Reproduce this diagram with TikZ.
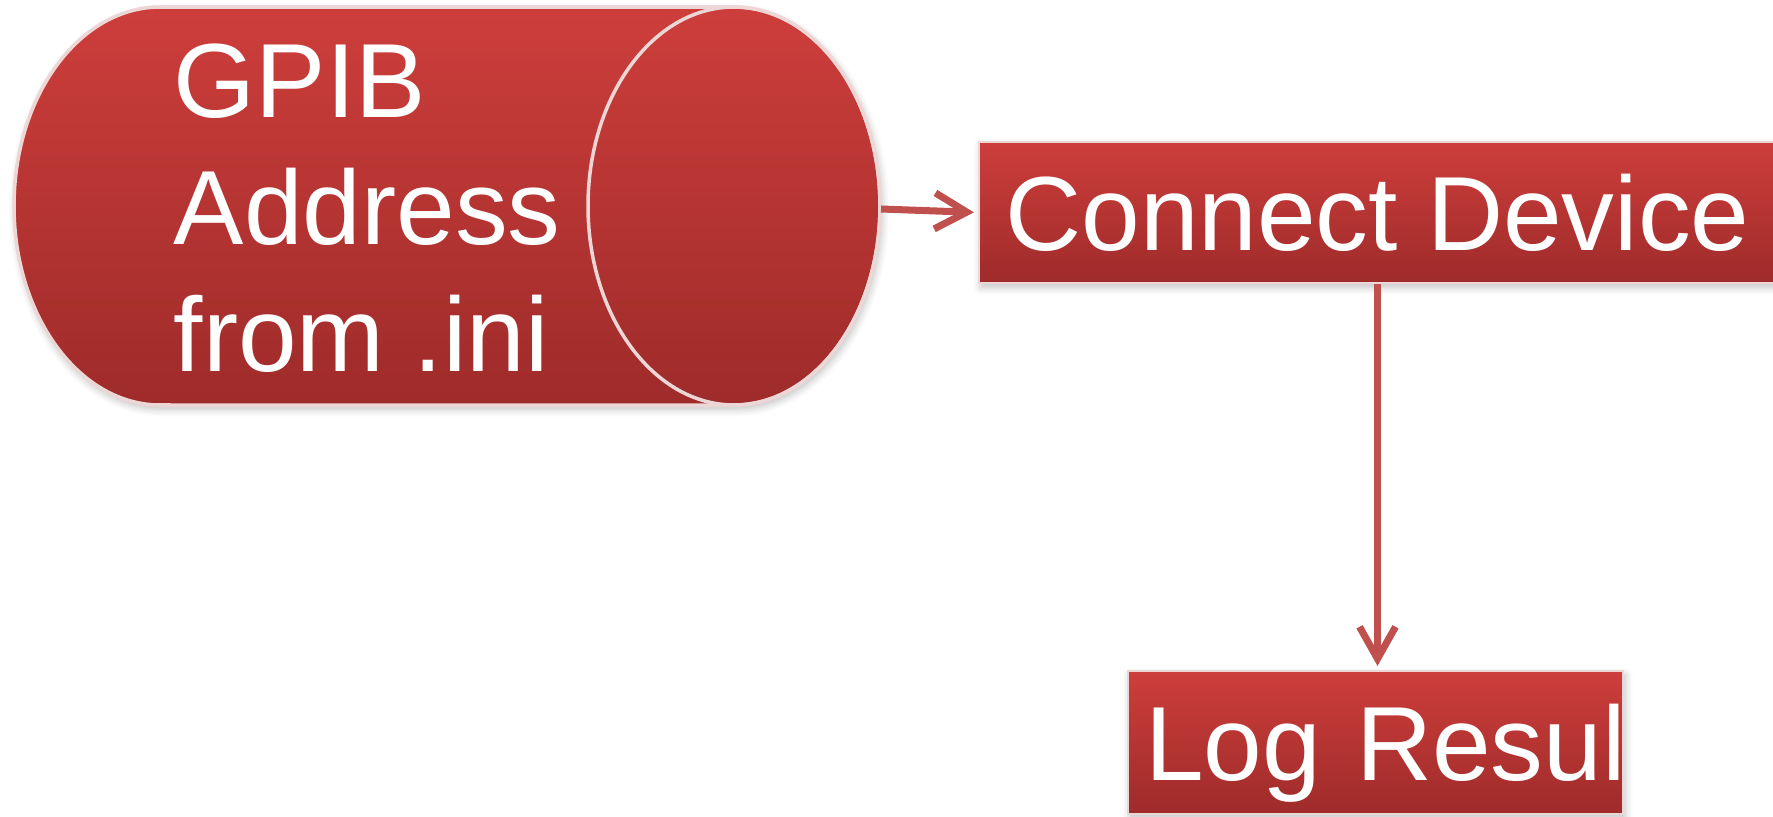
\documentclass[tikz,border=0pt]{standalone}
\usepackage{fontspec}
\setmainfont{Liberation Sans}
\usetikzlibrary{arrows.meta}
\usetikzlibrary{shadows.blur}
\definecolor{boxtop}{RGB}{205,62,59}
\definecolor{boxbot}{RGB}{158,43,42}
\definecolor{edgelite}{RGB}{236,214,214}
\definecolor{linkred}{RGB}{192,80,77}
\tikzset{
	softshadow/.style={blur shadow={shadow xshift=0.6pt, shadow yshift=-1.2pt, shadow blur steps=6, shadow opacity=25}},
	procbox/.style={rectangle, top color=boxtop, bottom color=boxbot, draw=edgelite, line width=0.6pt, softshadow,
		text=white, font=\fontsize{30}{36}\selectfont, text height=0.76cm, text depth=0cm, inner sep=0pt},
	flowarrow/.style={draw=linkred, line width=2pt, -{Straight Barb[length=3.2mm, width=3.6mm]}, shorten >=0.04cm}
}
\begin{document}
\begin{tikzpicture}
	\useasboundingbox (0,0) rectangle (17.73,8.16);
	% address tank
	\path[top color=boxtop, bottom color=boxbot, draw=edgelite, line width=1pt, softshadow]
		(1.60,8.09) -- (7.34,8.09) arc (90:-90:1.46 and 1.99) -- (1.60,4.11) arc (270:90:1.46 and 1.99) -- cycle;
	\draw[edgelite, line width=1pt] (7.34,6.10) ellipse (1.46 and 1.99);
	\node[text=white, font=\fontsize{30}{36}\selectfont, align=left, inner sep=0pt, anchor=base west] (addr) at (1.73,4.45) {GPIB\\Address\\from .ini};
	\coordinate (tank) at (8.81,6.07);
	% steps
	\node[procbox, minimum width=7.97cm, minimum height=1.41cm] (dev) at (13.775,6.035) {Connect Device};
	\node[procbox, minimum width=4.95cm, minimum height=1.43cm, text width=4.61cm, align=left] (log) at (13.755,0.735) {\mbox{Log Resul}};
	% links
	\draw[flowarrow] (tank) -- (dev.west);
	\draw[flowarrow] (dev.south) -- (dev.south |- log.north);
\end{tikzpicture}
\end{document}
